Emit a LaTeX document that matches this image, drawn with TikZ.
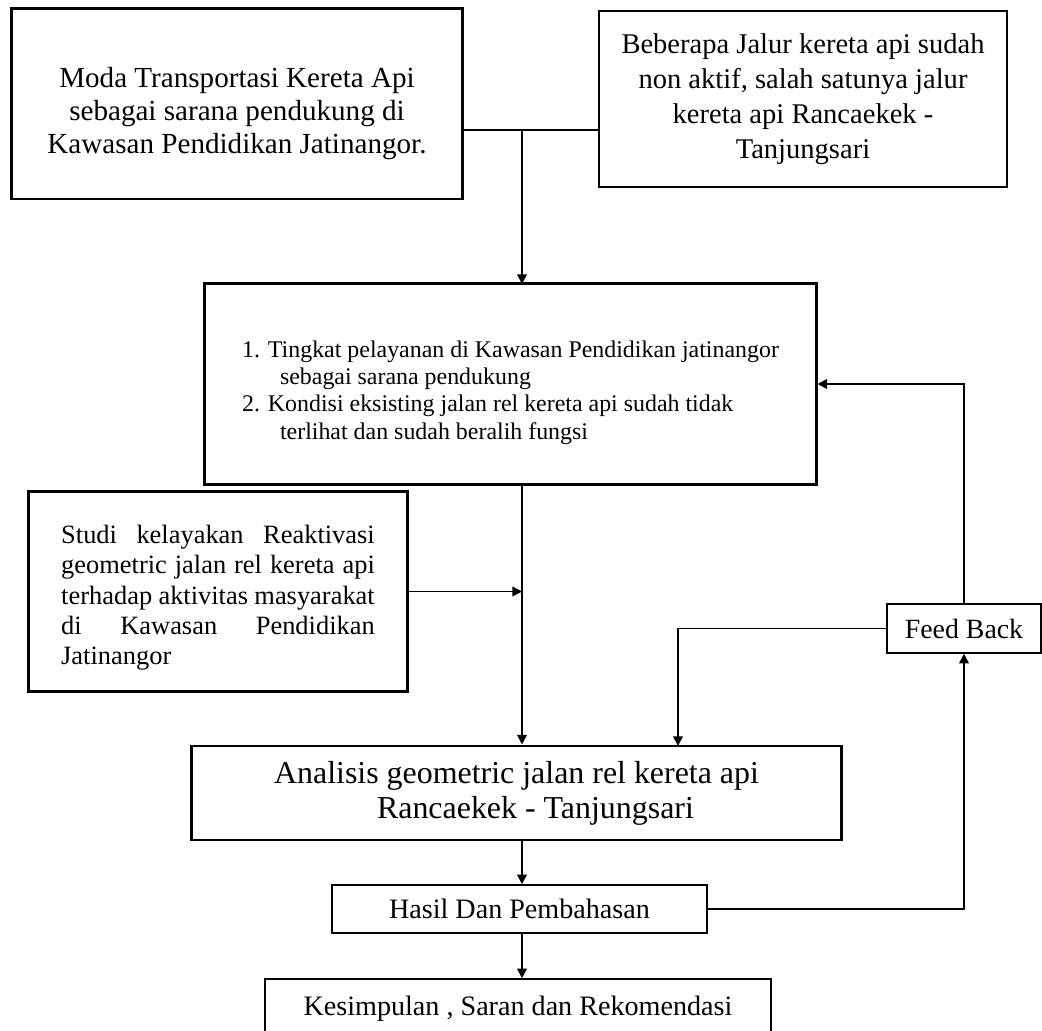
\documentclass[tikz,border=0pt]{standalone}
\usepackage{fontspec}
\setmainfont{Liberation Serif}
\usetikzlibrary{arrows.meta}

\begin{document}
\begin{tikzpicture}[x=0.025cm, y=-0.025cm,
    every node/.style={rectangle,draw,inner sep=0pt,align=center},
    thickbox/.style={line width=2.1pt},
    thinbox/.style={line width=1.1pt},
    conn/.style={line width=1.2pt},
    arr/.style={conn,-{Triangle[length=2.4mm,width=2.4mm]}}]
    \useasboundingbox (0,0) rectangle (1042,1031);

    \node[thickbox, minimum width=11.25cm, minimum height=4.75cm,
        font=\fontsize{20.7pt}{23.5pt}\selectfont] (A) at (237,104)
        {\rule{0pt}{28pt}Moda Transportasi Kereta Api\\sebagai sarana pendukung di\\Kawasan Pendidikan Jatinangor.};
    \node[line width=1.5pt, minimum width=10.2cm, minimum height=4.4cm,
        font=\fontsize{20.3pt}{25pt}\selectfont] (B) at (803,99)
        {Beberapa Jalur kereta api sudah\\non aktif, salah satunya jalur\\kereta api Rancaekek -\\Tanjungsari};

    \coordinate (J) at (522,130);
    \draw[conn] (J -| A.east) -- (J -| B.west);
    \draw[arr] (J) -- (J |- 0,284);

    \node[thickbox, minimum width=15.275cm, minimum height=5cm, align=left,
        font=\fontsize{17pt}{19.4pt}\selectfont] (C) at (510.5,384)
        {\rule{0pt}{24pt}1. Tingkat pelayanan di Kawasan Pendidikan jatinangor\\
        \hspace*{27pt}sebagai sarana pendukung\\
        2. Kondisi eksisting jalan rel kereta api sudah tidak\\
        \hspace*{27pt}terlihat dan sudah beralih fungsi};

    \node[thickbox, minimum width=9.45cm, minimum height=4.975cm, text width=223pt, align=justify,
        text height=22pt, font=\fontsize{18.8pt}{21.5pt}\selectfont] (D) at (218,591.5)
        {\hyphenpenalty=10000 Studi kelayakan Reaktivasi\linebreak geometric jalan rel kereta api\linebreak
        terhadap aktivitas masyarakat\linebreak di Kawasan Pendidikan\linebreak Jatinangor};

    \node[thinbox, minimum width=3.85cm, minimum height=1.225cm,
        font=\fontsize{19.8pt}{22pt}\selectfont] (FB) at (964,628.5) {Feed Back};

    \node[thickbox, minimum width=16.225cm, minimum height=2.35cm,
        font=\fontsize{22.7pt}{25pt}\selectfont] (E) at (516.5,793)
        {Analisis geometric jalan rel kereta api\\\hspace*{27pt}Rancaekek - Tanjungsari};

    \node[thinbox, minimum width=9.375cm, minimum height=1.2cm,
        font=\fontsize{20pt}{22pt}\selectfont] (F) at (519.5,909) {Hasil Dan Pembahasan};

    \node[thinbox, minimum width=12.65cm, minimum height=1.5cm,
        font=\fontsize{20pt}{22pt}\selectfont] (G) at (518,1009) {Kesimpulan , Saran dan Rekomendasi};

    \coordinate (EIN) at (678,746);

    \draw[arr] (C.south -| J) -- (E.north -| J);
    \draw[arr] (D.east) -- (D.east -| J);
    \draw[arr] (FB.west) -| (EIN);
    \draw[arr, line width=1.6pt] (FB.north) |- (C.east);
    \draw[arr] (E.south -| J) -- (F.north -| J);
    \draw[arr] (F.east) -| (FB.south);
    \draw[arr] (F.south -| J) -- (G.north -| J);
\end{tikzpicture}
\end{document}
